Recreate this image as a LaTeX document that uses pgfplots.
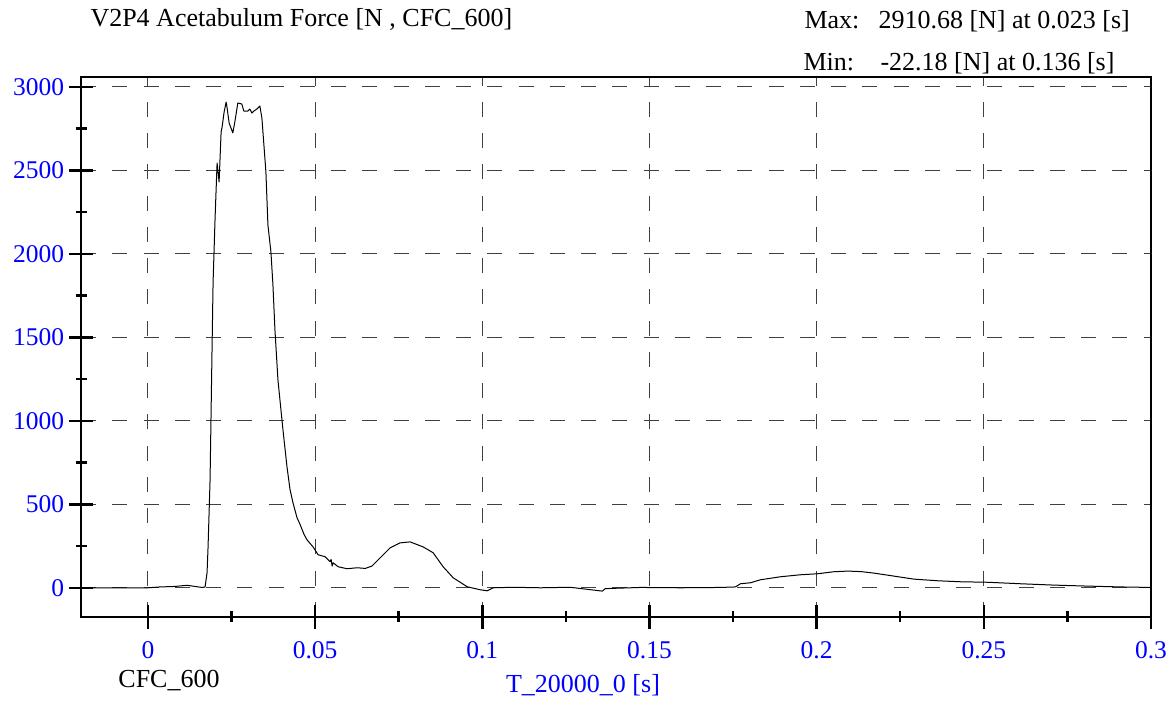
\documentclass[border=0pt]{standalone}
\usepackage{fontspec}
\setmainfont{Liberation Serif}
\usepackage{pgfplots}
\pgfplotsset{compat=1.18}
\pgfplotstableread{
t F
-0.0201 0
0.0000 0
0.0036 5
0.0081 8
0.0117 15
0.0141 8
0.0162 2
0.0171 5
0.0177 90
0.0180 245
0.0186 647
0.0192 1443
0.0195 1830
0.0201 2216
0.0207 2545
0.0213 2431
0.0219 2731
0.0222 2760
0.0228 2850
0.0234 2910
0.0237 2874
0.0243 2784
0.0254 2725
0.0260 2790
0.0269 2904
0.0281 2898
0.0287 2856
0.0299 2856
0.0305 2868
0.0311 2844
0.0317 2856
0.0326 2868
0.0335 2886
0.0341 2814
0.0347 2653
0.0353 2491
0.0359 2174
0.0368 2012
0.0374 1814
0.0380 1545
0.0389 1245
0.0404 946
0.0416 725
0.0425 590
0.0434 509
0.0446 420
0.0455 380
0.0467 320
0.0476 287
0.0494 245
0.0509 198
0.0530 186
0.0545 156
0.0548 170
0.0551 130
0.0554 150
0.0569 126
0.0596 114
0.0626 120
0.0650 116
0.0670 130
0.0690 170
0.0725 240
0.0754 269
0.0784 275
0.0823 245
0.0853 210
0.0883 126
0.0913 60
0.0955 6
0.0994 -12
0.1015 -18
0.1033 0
0.1093 3
0.1174 0
0.1263 3
0.1359 -20
0.1368 -5
0.1473 2
0.1593 0
0.1713 2
0.1757 5
0.1772 24
0.1802 30
0.1832 48
0.1892 66
0.1952 78
0.2003 84
0.2051 96
0.2093 100
0.2132 97
0.2171 88
0.2231 70
0.2290 52
0.2362 42
0.2431 36
0.2512 33
0.2611 24
0.2710 16
0.2811 10
0.2910 5
0.3000 2
}\datatable
\begin{document}
\begin{tikzpicture}[x=1pt,y=1pt]
\begin{axis}[
  at={(32.4pt,35.6pt)}, anchor=south west,
  scale only axis, width=428pt, height=216pt,
  xmin=-0.02, xmax=0.3, ymin=-175, ymax=3060,
  xtick={0,0.05,0.1,0.15,0.2,0.25,0.3},
  xticklabels={0,0.05,0.1,0.15,0.2,0.25,0.3},
  minor xtick={0.025,0.075,0.125,0.175,0.225,0.275},
  ytick={0,500,1000,1500,2000,2500,3000},
  yticklabels={0,500,1000,1500,2000,2500,3000},
  minor ytick={250,750,1250,1750,2250,2750},
  tick align=center,
  xtick pos=bottom, ytick pos=left,
  major tick length=9.6pt, minor tick length=4.4pt,
  every tick/.style={black, line width=1pt},
  axis line style={line width=1pt},
  xmajorgrids, ymajorgrids,
  major grid style={dash pattern=on 6pt off 6.5pt, line width=0.4pt, black!75},
  tick label style={text=blue, font=\fontsize{10.2}{12}\selectfont},
  xticklabel style={yshift=-1.6pt},
  yticklabel style={xshift=1.6pt},
  clip=true,
]
\addplot[black, line width=0.4pt, line join=round] table[x=t, y=F] {\datatable};
\end{axis}
\begin{scope}[font=\fontsize{10.4}{12}\selectfont]
\node[anchor=base west, inner sep=0] at (36pt,271.6pt) {V2P4 Acetabulum Force [N , CFC\_600]};
\node[anchor=base west, inner sep=0] at (321.6pt,270.8pt) {Max:};
\node[anchor=base west, inner sep=0] at (351.2pt,270.8pt) {2910.68 [N] at 0.023 [s]};
\node[anchor=base west, inner sep=0] at (321.2pt,254pt) {Min:};
\node[anchor=base west, inner sep=0] at (352pt,254pt) {-22.18 [N] at 0.136 [s]};
\node[anchor=base, inner sep=0] at (67.6pt,7.2pt) {CFC\_600};
\node[anchor=base, inner sep=0, text=blue] at (233.2pt,5.2pt) {T\_20000\_0 [s]};
\end{scope}
\pgfresetboundingbox
\path (0,0) rectangle (470pt,282.4pt);
\end{tikzpicture}
\end{document}
